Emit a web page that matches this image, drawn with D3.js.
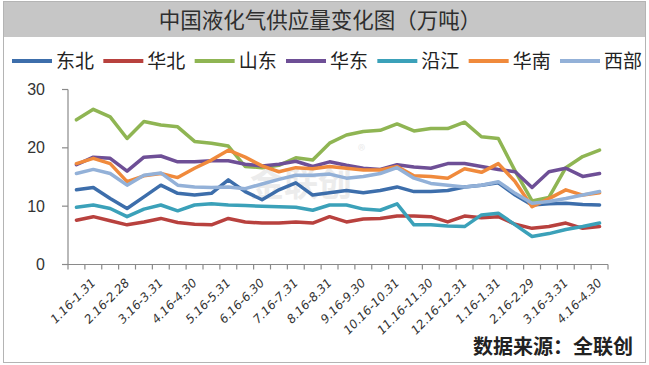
<!DOCTYPE html>
<html><head><meta charset="utf-8">
<script src="https://cdn.jsdelivr.net/npm/d3@7/dist/d3.min.js"></script>
<style>
html,body{margin:0;padding:0;background:#fff;}
svg{display:block;}
</style></head>
<body>
<svg id="chart" width="649" height="365"></svg>
<script>
const title = "中国液化气供应量变化图（万吨）";
const source = "数据来源：全联创";
const categories = ["1.1-1.15","1.16-1.31","2.1-2.15","2.16-2.28","3.1-3.15","3.16-3.31","4.1-4.15","4.16-4.30",
  "5.1-5.15","5.16-5.31","6.1-6.15","6.16-6.30","7.1-7.15","7.16-7.31","8.1-8.15","8.16-8.31",
  "9.1-9.15","9.16-9.30","10.1-10.15","10.16-10.31","11.1-11.15","11.16-11.30","12.1-12.15","12.16-12.31",
  "1.1-1.15","1.16-1.31","2.1-2.15","2.16-2.29","3.1-3.15","3.16-3.31","4.1-4.15","4.16-4.30"];
const tickLabels = categories.map((c,i)=> i%2===1 ? c : "");
const yTicks = [0,10,20,30];
const seriesNames = ["东北","华北","山东","华东","沿江","华南","西部"];
const seriesColors = ["#3d6eab","#b8413e","#8fb553","#6e4f96","#3ba1b9","#f08a3c","#93b1d8"];

const dongbei = [12.8,13.2,11.3,9.6,11.6,13.6,12.2,11.9,12.2,14.5,12.5,11.1,12.8,14.0,11.9,12.3,12.7,12.3,12.7,13.3,12.5,12.5,12.7,13.3,13.6,14.0,11.9,10.2,10.4,10.5,10.3,10.2];
const huabei  = [7.6,8.2,7.5,6.8,7.3,7.9,7.2,6.9,6.8,7.9,7.3,7.1,7.1,7.3,7.1,8.2,7.3,7.8,7.9,8.3,8.3,8.2,7.3,8.3,8.0,8.2,6.9,6.2,6.5,7.1,6.2,6.5];
const shandong = [24.8,26.6,25.3,21.6,24.5,23.9,23.6,21.1,20.8,20.3,16.8,16.6,17.0,18.3,17.9,20.8,22.2,22.8,23.0,24.1,22.9,23.3,23.3,24.4,21.9,21.6,16.0,10.9,11.5,16.6,18.5,19.6];
const huadong = [17.1,18.4,18.2,16.0,18.4,18.6,17.6,17.6,17.8,17.8,17.2,16.9,17.2,17.7,16.8,17.6,17.0,16.5,16.3,17.1,16.7,16.5,17.3,17.3,16.8,16.3,15.9,13.2,15.9,16.5,15.1,15.6];
const yanjiang = [9.8,10.2,9.6,8.2,9.5,10.2,9.2,10.2,10.4,10.2,10.1,10.0,9.9,9.8,9.3,10.2,10.2,9.5,9.3,10.4,6.8,6.8,6.6,6.5,8.5,8.8,6.8,4.8,5.3,6.0,6.5,7.1];
const huanan  = [17.3,18.2,17.3,14.2,15.2,15.6,14.9,16.5,17.9,19.6,18.4,16.9,15.9,16.6,16.4,16.8,16.5,16.2,16.2,16.8,15.2,15.1,14.8,16.4,15.8,17.3,14.2,9.9,11.3,12.8,11.9,12.3];
const xibu     = [15.6,16.3,15.6,13.6,15.3,15.7,13.6,13.3,13.2,13.3,13.0,13.8,14.6,15.3,15.3,15.5,14.8,15.1,15.6,16.6,14.8,13.9,13.6,13.3,13.6,14.2,12.2,10.5,10.8,11.3,11.9,12.5];
const seriesValues = [dongbei,huabei,shandong,huadong,yanjiang,huanan,xibu];

const svg = d3.select("#chart");
const plotLeft = 68, plotRight = 608, plotTop = 89.5, plotBottom = 264.5;

// frame
svg.append("rect").attr("x",3.5).attr("y",1.5).attr("width",642).attr("height",361)
  .attr("fill","#fff").attr("stroke","#b4b4b4").attr("stroke-width",1);
// title band
svg.append("rect").attr("x",4).attr("y",2).attr("width",641).attr("height",35).attr("fill","#c6c6c6");
svg.append("text").attr("x",320).attr("y",27.5).attr("text-anchor","middle")
  .attr("font-family","'Noto Sans CJK SC'").attr("font-size",21.5).attr("fill","#2e2e2e").text(title);

// legend
const legX = d3.scaleLinear().domain([0,6]).range([12,560]);
const leg = svg.append("g");
seriesNames.forEach((n,i)=>{
  const x0 = legX(i);
  leg.append("line").attr("x1",x0).attr("x2",x0+40).attr("y1",61).attr("y2",61)
    .attr("stroke",seriesColors[i]).attr("stroke-width",4);
  leg.append("text").attr("x",x0+44).attr("y",67.5).attr("font-family","'Noto Sans CJK SC'")
    .attr("font-size",19).attr("fill","#222").text(n);
});

const x = d3.scaleBand().domain(d3.range(categories.length)).range([plotLeft,plotRight]);
const y = d3.scaleLinear().domain([0,30]).range([plotBottom,plotTop]);

// faint watermark
const wm = svg.append("g").attr("fill","#ececec").attr("font-family","'Noto Sans CJK SC'");
wm.append("text").attr("x",250).attr("y",196).attr("font-size",34).attr("font-weight","bold").text("金联创");
wm.append("text").attr("x",358).attr("y",156).attr("font-size",15).text("®");

// axes
const ax = svg.append("g").attr("stroke","#8a8a8a").attr("stroke-width",1.2);
ax.append("line").attr("x1",plotLeft).attr("x2",plotLeft).attr("y1",y(30)).attr("y2",y(0));
ax.append("line").attr("x1",plotLeft-5).attr("x2",plotRight).attr("y1",y(0)).attr("y2",y(0));
yTicks.forEach(t=>{
  ax.append("line").attr("x1",plotLeft-6).attr("x2",plotLeft).attr("y1",y(t)).attr("y2",y(t));
});
const bounds = d3.range(categories.length).map(i=>x(i)).concat([x(categories.length-1)+x.bandwidth()]);
bounds.forEach(b=>{
  ax.append("line").attr("x1",b).attr("x2",b).attr("y1",y(0)).attr("y2",y(0)+5);
});
yTicks.forEach(t=>{
  svg.append("text").attr("x",45).attr("y",y(t)+5.5).attr("text-anchor","end")
    .attr("font-family","'Liberation Sans'").attr("font-size",16).attr("fill","#333").text(t);
});
tickLabels.forEach((lab,i)=>{
  if(!lab) return;
  const cx = x(i)+x.bandwidth()/2+3;
  svg.append("text").attr("transform",`translate(${cx},${y(0)+19}) rotate(-45)`)
    .attr("text-anchor","end").attr("font-family","'DejaVu Sans'").attr("font-style","italic")
    .attr("font-size",12).attr("fill","#333").text(lab);
});

// lines
const line = d3.line().x((d,i)=>x(i)+x.bandwidth()/2).y(d=>y(d));
seriesValues.forEach((vals,k)=>{
  svg.append("path").datum(vals).attr("d",line).attr("fill","none")
    .attr("stroke",seriesColors[k]).attr("stroke-width",3.5)
    .attr("stroke-linejoin","round").attr("stroke-linecap","round");
});

// source
svg.append("text").attr("x",633).attr("y",354).attr("text-anchor","end")
  .attr("font-family","'Noto Sans CJK SC'").attr("font-weight","bold").attr("font-size",20)
  .attr("fill","#222").text(source);
</script>
</body></html>
